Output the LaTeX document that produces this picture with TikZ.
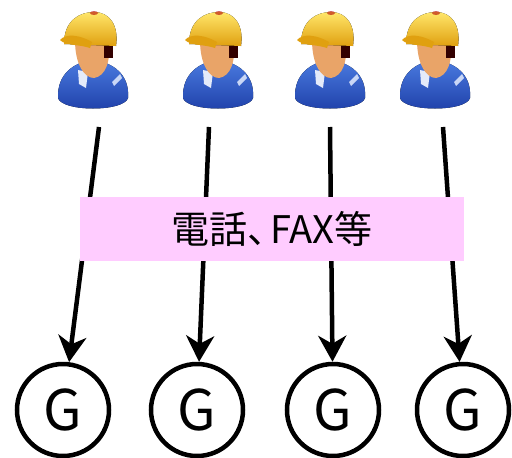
\documentclass[tikz,border=0pt]{standalone}
\usepackage{fontspec}
\newfontfamily\jpfont{Noto Sans CJK JP}
\usepackage{tikz}
\usetikzlibrary{arrows.meta,positioning}

\definecolor{helmetlight}{HTML}{FFE66A}
\definecolor{helmetdark}{HTML}{E0A010}
\definecolor{skin}{HTML}{E9A468}
\definecolor{suitlight}{HTML}{4A7BE0}
\definecolor{suitdark}{HTML}{1E3FA8}
\definecolor{boxpink}{HTML}{FFCCFF}

\begin{document}
\begin{tikzpicture}[x=1pt,y=-1pt,
    worker/.pic={
        % Body
        \fill[top color=suitlight,bottom color=suitdark]
            (-2,98) .. controls (-3,74) and (14,62) .. (33,60)
            .. controls (52,62) and (70,74) .. (68,98)
            .. controls (64,112) and (2,112) .. (-2,98) -- cycle;
        \fill[white!85!suitlight] (18,70) -- (28,72) -- (26,88) -- (19,84) -- cycle;
        \fill[white!70!suitlight] (52,82) -- (60,74) -- (62,78) -- (54,86) -- cycle;
        % Face
        \fill[skin] (15,40) .. controls (15,64) and (24,78) .. (34,78)
            .. controls (46,76) and (50,62) .. (50,40) -- cycle;
        \fill[black!80!red] (44,36) rectangle (53,58);
        % Helmet
        \fill[top color=helmetlight,bottom color=helmetdark]
            (4,44) .. controls (4,20) and (20,12) .. (34,12)
            .. controls (50,12) and (59,26) .. (56,46) -- cycle;
        \fill[helmetdark] (0,40) .. controls (6,33) and (20,35) .. (32,42)
            -- (30,48) .. controls (18,44) and (6,46) .. (0,40) -- cycle;
        \fill[red!70!black,opacity=0.6] (34,13) ellipse (4 and 2);
    },
    gnode/.style={circle,draw,line width=4.5pt,minimum size=92pt,inner sep=0pt,
        font=\jpfont\fontsize{56}{56}\selectfont},
    link/.style={line width=4.5pt,-{Stealth[length=26pt,width=28pt,inset=8pt]}},
    labelbox/.style={fill=boxpink,minimum width=384pt,minimum height=64pt,
        inner sep=0pt,font=\jpfont\fontsize{38}{38}\selectfont}]
    \useasboundingbox (0,0) rectangle (512,458);
    % Workers
    \pic at (60,0) {worker};
    \pic at (185,0) {worker};
    \pic at (297,0) {worker};
    \pic at (402,0) {worker};
    \coordinate (s1) at (99,127);
    \coordinate (s2) at (209,127);
    \coordinate (s3) at (330,127);
    \coordinate (s4) at (443,127);
    % G nodes
    \node[gnode] (g1) at (63,410) {G};
    \node[gnode] (g2) at (197,410) {G};
    \node[gnode] (g3) at (333,410) {G};
    \node[gnode] (g4) at (463,410) {G};
    % Arrows
    \foreach \i in {1,...,4}
        \draw[link] (s\i) -- (g\i);
    % Label over the arrows
    \node[labelbox] (media) at (272,229) {電話、\kern-0.4em FAX等};
\end{tikzpicture}
\end{document}
